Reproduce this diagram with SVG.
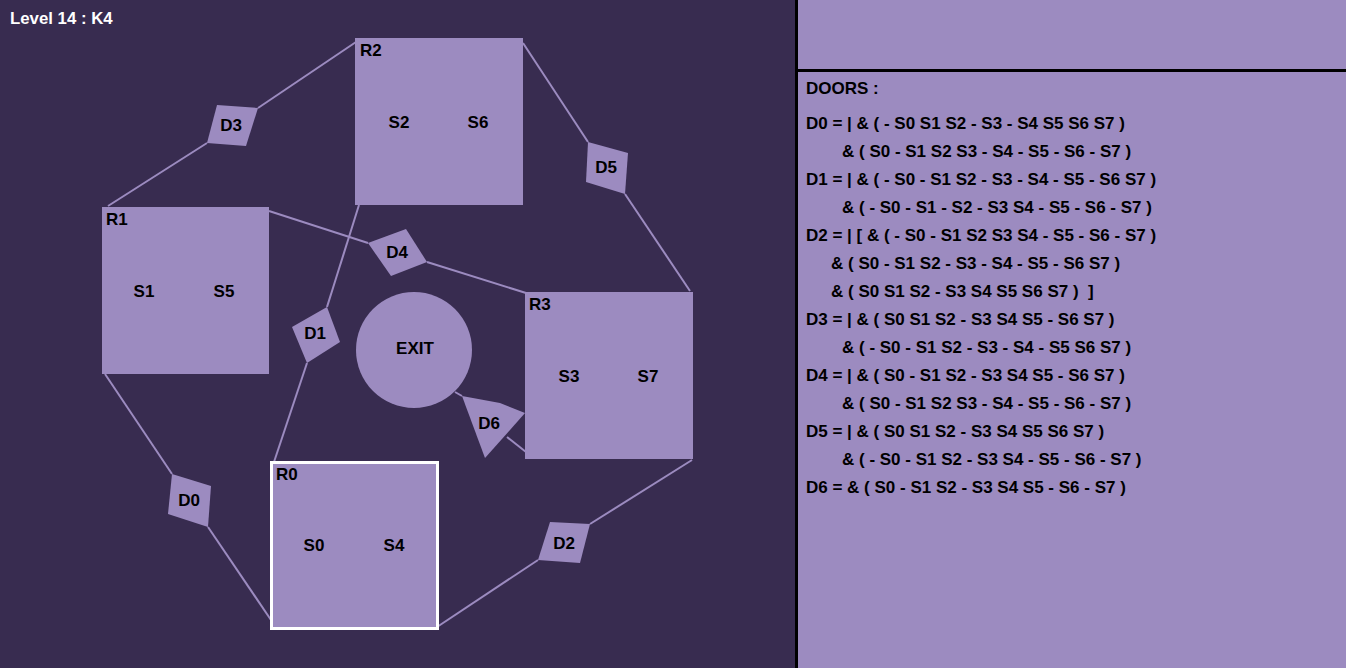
<svg xmlns="http://www.w3.org/2000/svg" width="1346" height="668" viewBox="0 0 1346 668">
<style>
.bg{fill:#382c50}
.lt{fill:#9c8bc0}
.t{font-family:"Liberation Sans",Arial,sans-serif;font-weight:bold;font-size:17px;fill:#000}
.c{text-anchor:middle}
.e{stroke:#9c8bc0;stroke-width:2;fill:none}
.p{font-family:"Liberation Sans",Arial,sans-serif;font-weight:bold;font-size:17px;fill:#000}
</style>
<rect class="bg" x="0" y="0" width="797" height="668"/>
<rect class="lt" x="797" y="0" width="549" height="668"/>
<rect x="795" y="0" width="3" height="668" fill="#000"/>
<rect x="797" y="69" width="549" height="3" fill="#000"/>
<text x="10" y="24" style="font-family:'Liberation Sans',Arial,sans-serif;font-weight:bold;font-size:16.8px;fill:#fff">Level 14 : K4</text>
<g id="connectors">
<line class="e" x1="108" y1="206" x2="207" y2="143"/>
<line class="e" x1="258" y1="108" x2="356" y2="42"/>
<line class="e" x1="269" y1="211" x2="368" y2="243"/>
<line class="e" x1="427" y1="262" x2="526" y2="293"/>
<line class="e" x1="359" y1="205" x2="327" y2="307"/>
<line class="e" x1="307" y1="363" x2="274" y2="462"/>
<line class="e" x1="455" y1="392" x2="462" y2="396"/>
<line class="e" x1="507" y1="437" x2="526" y2="452"/>
<line class="e" x1="590" y1="524" x2="692" y2="460"/>
<line class="e" x1="538" y1="560" x2="437" y2="627"/>
<line class="e" x1="523" y1="43" x2="588" y2="142"/>
<line class="e" x1="625" y1="194" x2="690" y2="291"/>
<line class="e" x1="105" y1="374" x2="172" y2="474"/>
<line class="e" x1="208" y1="527" x2="271" y2="620"/>
</g>
<g id="R2"><rect class="lt" x="355" y="38" width="168" height="167"/><text class="t" x="360" y="56">R2</text><text class="t c" x="399" y="128">S2</text><text class="t c" x="478" y="128">S6</text></g>
<g id="R1"><rect class="lt" x="102" y="207" width="167" height="167"/><text class="t" x="106" y="225">R1</text><text class="t c" x="144" y="297">S1</text><text class="t c" x="224" y="297">S5</text></g>
<g id="R3"><rect class="lt" x="525" y="292" width="168" height="167"/><text class="t" x="529" y="310">R3</text><text class="t c" x="569" y="382">S3</text><text class="t c" x="648" y="382">S7</text></g>
<g id="R0"><rect class="lt" x="271.5" y="462.5" width="166" height="166" stroke="#fff" stroke-width="3"/><text class="t" x="276" y="480">R0</text><text class="t c" x="314" y="551">S0</text><text class="t c" x="394" y="551">S4</text></g>
<g id="EXIT"><circle class="lt" cx="414" cy="350" r="58"/><text class="t c" x="415" y="354">EXIT</text></g>
<g id="D3"><polygon class="lt" points="217,105 258,108 246,146 207,143"/><text class="t c" x="231" y="131">D3</text></g>
<g id="D4"><polygon class="lt" points="368,243 406,229 427,262 391,276"/><text class="t c" x="397" y="258">D4</text></g>
<g id="D1"><polygon class="lt" points="327,307 340,342 307,363 292,327"/><text class="t c" x="315" y="339">D1</text></g>
<g id="D6"><polygon class="lt" points="462,396 500,403 525,413 485,458"/><text class="t c" x="489" y="429">D6</text></g>
<g id="D2"><polygon class="lt" points="550,522 590,524 580,563 538,560"/><text class="t c" x="564" y="549">D2</text></g>
<g id="D5"><polygon class="lt" points="588,142 628,153 625,194 586,182"/><text class="t c" x="606" y="173">D5</text></g>
<g id="D0"><polygon class="lt" points="172,474 211,486 208,527 168,514"/><text class="t c" x="189" y="506">D0</text></g>
<g id="doors-text">
<text class="p" x="806" y="94">DOORS :</text>
<text class="p" x="806" y="129">D0 = | &amp; ( - S0 S1 S2 - S3 - S4 S5 S6 S7 )</text>
<text class="p" x="842" y="157">&amp; ( S0 - S1 S2 S3 - S4 - S5 - S6 - S7 )</text>
<text class="p" x="806" y="185">D1 = | &amp; ( - S0 - S1 S2 - S3 - S4 - S5 - S6 S7 )</text>
<text class="p" x="842" y="213">&amp; ( - S0 - S1 - S2 - S3 S4 - S5 - S6 - S7 )</text>
<text class="p" x="806" y="241">D2 = | [ &amp; ( - S0 - S1 S2 S3 S4 - S5 - S6 - S7 )</text>
<text class="p" x="831" y="269">&amp; ( S0 - S1 S2 - S3 - S4 - S5 - S6 S7 )</text>
<text class="p" x="831" y="297" xml:space="preserve">&amp; ( S0 S1 S2 - S3 S4 S5 S6 S7 )  ]</text>
<text class="p" x="806" y="325">D3 = | &amp; ( S0 S1 S2 - S3 S4 S5 - S6 S7 )</text>
<text class="p" x="842" y="353">&amp; ( - S0 - S1 S2 - S3 - S4 - S5 S6 S7 )</text>
<text class="p" x="806" y="381">D4 = | &amp; ( S0 - S1 S2 - S3 S4 S5 - S6 S7 )</text>
<text class="p" x="842" y="409">&amp; ( S0 - S1 S2 S3 - S4 - S5 - S6 - S7 )</text>
<text class="p" x="806" y="437">D5 = | &amp; ( S0 S1 S2 - S3 S4 S5 S6 S7 )</text>
<text class="p" x="842" y="465">&amp; ( - S0 - S1 S2 - S3 S4 - S5 - S6 - S7 )</text>
<text class="p" x="806" y="493">D6 = &amp; ( S0 - S1 S2 - S3 S4 S5 - S6 - S7 )</text>
</g>
</svg>
